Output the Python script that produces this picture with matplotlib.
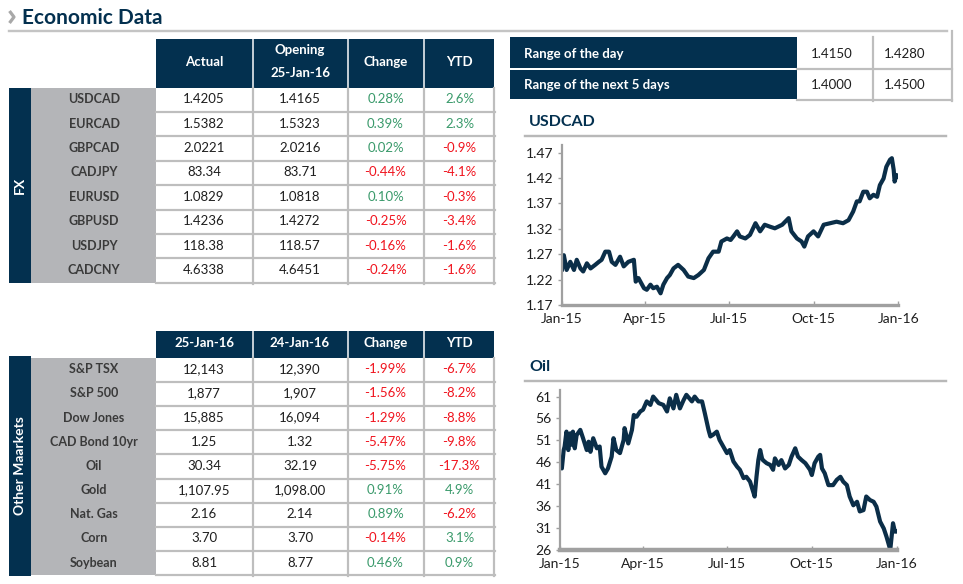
import numpy as np
import matplotlib
matplotlib.use("Agg")
import matplotlib.pyplot as plt
from matplotlib.patches import Rectangle

plt.rcParams['font.family'] = ['Lato', 'DejaVu Sans']

NAVY = '#03304F'
LINE_NAVY = '#0B2E48'
GREY_LBL = '#B4B5B8'
GRID = '#BEBEBE'
GREEN = '#3A9A6B'
RED = '#F0141E'
TXT = '#1E1E1E'
LBL = '#3A3A3A'

# ---------------- data ----------------
fx_names = ['USDCAD', 'EURCAD', 'GBPCAD', 'CADJPY', 'EURUSD', 'GBPUSD', 'USDJPY', 'CADCNY']
fx_actual = ['1.4205', '1.5382', '2.0221', '83.34', '1.0829', '1.4236', '118.38', '4.6338']
fx_open = ['1.4165', '1.5323', '2.0216', '83.71', '1.0818', '1.4272', '118.57', '4.6451']
fx_change = [0.28, 0.39, 0.02, -0.44, 0.10, -0.25, -0.16, -0.24]
fx_ytd = [2.6, 2.3, -0.9, -4.1, -0.3, -3.4, -1.6, -1.6]
fx_headers = ['Actual', 'Opening\n25-Jan-16', 'Change', 'YTD']

om_names = ['S&P TSX', 'S&P 500', 'Dow Jones', 'CAD Bond 10yr', 'Oil', 'Gold', 'Nat. Gas', 'Corn', 'Soybean']
om_cur = ['12,143', '1,877', '15,885', '1.25', '30.34', '1,107.95', '2.16', '3.70', '8.81']
om_prev = ['12,390', '1,907', '16,094', '1.32', '32.19', '1,098.00', '2.14', '3.70', '8.77']
om_change = [-1.99, -1.56, -1.29, -5.47, -5.75, 0.91, 0.89, -0.14, 0.46]
om_ytd = [-6.7, -8.2, -8.8, -9.8, -17.3, 4.9, -6.2, 3.1, 0.9]
om_headers = ['25-Jan-16', '24-Jan-16', 'Change', 'YTD']

range_labels = ['Range of the day', 'Range of the next 5 days']
range_low = ['1.4150', '1.4000']
range_high = ['1.4280', '1.4500']

# days since 2015-01-01
usdcad_day = [0, 2, 5, 9, 13, 16, 20, 23, 27, 31, 36, 40, 43, 47, 51, 54, 58, 63, 67, 72,
              78, 80, 83, 89, 92, 96, 99, 103, 107, 110, 114, 117, 121, 126, 132, 137, 143,
              148, 154, 159, 164, 170, 173, 179, 183, 186, 190, 193, 199, 204, 210, 215, 220,
              226, 231, 239, 246, 249, 255, 260, 263, 267, 273, 278, 284, 291, 298, 305, 311,
              316, 320, 323, 327, 331, 334, 338, 342, 345, 349, 352, 356, 358, 360, 361, 363, 365]
usdcad_val = [1.240, 1.268, 1.239, 1.255, 1.239, 1.259, 1.242, 1.236, 1.252, 1.242, 1.249,
              1.255, 1.259, 1.275, 1.275, 1.255, 1.249, 1.265, 1.246, 1.255, 1.259, 1.216,
              1.223, 1.203, 1.200, 1.210, 1.203, 1.206, 1.193, 1.210, 1.223, 1.229, 1.242,
              1.249, 1.239, 1.226, 1.223, 1.229, 1.239, 1.262, 1.275, 1.275, 1.295, 1.301,
              1.298, 1.305, 1.315, 1.305, 1.301, 1.308, 1.331, 1.315, 1.328, 1.324, 1.321,
              1.328, 1.341, 1.315, 1.301, 1.295, 1.285, 1.305, 1.315, 1.305, 1.328, 1.331,
              1.334, 1.331, 1.337, 1.354, 1.374, 1.374, 1.393, 1.393, 1.380, 1.387, 1.383,
              1.406, 1.419, 1.442, 1.456, 1.459, 1.436, 1.413, 1.426, 1.423]

oil_day = [0, 2, 4, 5, 7, 9, 11, 13, 14, 16, 18, 22, 25, 29, 31, 33, 36, 40, 43, 45, 49, 52,
           56, 58, 61, 65, 69, 70, 74, 78, 80, 83, 87, 90, 94, 98, 101, 107, 112, 116, 119,
           123, 126, 130, 134, 137, 143, 146, 150, 154, 157, 161, 163, 166, 170, 173, 177,
           181, 184, 188, 192, 195, 199, 202, 206, 210, 211, 213, 215, 217, 219, 220, 224,
           228, 231, 233, 237, 240, 244, 248, 251, 255, 258, 262, 266, 271, 273, 276, 280,
           282, 284, 287, 291, 296, 300, 304, 307, 311, 314, 318, 322, 325, 329, 332, 336,
           340, 343, 347, 351, 354, 357, 358, 361, 363, 365]
oil_val = [45.8, 44.6, 48.8, 49.6, 53.0, 48.8, 52.6, 50.0, 53.0, 49.2, 52.2, 53.4, 51.5, 48.8,
           50.7, 48.4, 51.5, 49.2, 49.6, 45.0, 43.5, 44.6, 47.3, 51.5, 48.8, 48.1, 51.1, 53.8,
           50.3, 53.4, 56.8, 56.4, 57.6, 58.0, 59.9, 59.1, 61.0, 59.5, 59.1, 57.6, 60.6, 58.3,
           61.4, 58.3, 60.2, 61.4, 59.9, 61.0, 59.9, 59.9, 57.2, 53.4, 51.9, 52.3, 53.0, 51.1,
           49.6, 48.1, 48.8, 46.2, 45.0, 44.3, 42.4, 42.7, 41.6, 38.9, 38.2, 42.7, 46.5, 48.8,
           46.9, 46.5, 45.8, 45.4, 44.3, 46.9, 45.4, 46.5, 44.6, 45.4, 47.3, 49.2, 47.3, 46.5,
           45.8, 44.3, 43.1, 45.8, 47.3, 47.7, 44.6, 43.5, 40.8, 40.8, 42.0, 42.7, 41.6, 40.8,
           38.2, 36.2, 37.0, 34.8, 35.1, 38.2, 37.4, 37.0, 35.9, 32.5, 30.9, 29.0, 26.8, 26.0,
           32.1, 30.2, 30.2]

usdcad_ticks = [1.17, 1.22, 1.27, 1.32, 1.37, 1.42, 1.47]
oil_ticks = [26, 31, 36, 41, 46, 51, 56, 61]
date_ticks = ['2015-01-01', '2015-04-01', '2015-07-01', '2015-10-01', '2016-01-01']
date_tick_labels = ['Jan-15', 'Apr-15', 'Jul-15', 'Oct-15', 'Jan-16']

# ---------------- figure ----------------
W, H = 963, 584
fig = plt.figure(figsize=(W / 100, H / 100), dpi=100)
ax = fig.add_axes([0, 0, 1, 1])
ax.set_xlim(0, W)
ax.set_ylim(H, 0)
ax.axis('off')

PX = 0.72  # points per pixel

# title
ax.plot([9.5, 14, 9.5], [11, 17, 23], color='#A8A8A8', lw=3.2 * PX, solid_capstyle='butt')
ax.text(22.5, 17.5, 'Economic Data', fontsize=15, fontweight='bold', color=NAVY,
        ha='left', va='center')
ax.plot([9, 947], [30.5, 30.5], color='#C4C4C4', lw=2.4 * PX)

col_edges = [156, 252.5, 347.5, 424, 494]
col_centers = [204, 300, 385.5, 459.5]


def fmt_pct(v, nd):
    return f'{v:.{nd}f}%'


def draw_table(h_top, h_bot, row_top, row_h, names, c1, c2, chg, ytd, headers, side, side_top, side_bot):
    n = len(names)
    row_bot = row_top + n * row_h
    # header
    ax.add_patch(Rectangle((col_edges[0], h_top), col_edges[-1] - col_edges[0], h_bot - h_top,
                           facecolor=NAVY, edgecolor='none'))
    for xe in col_edges[1:-1]:
        ax.plot([xe, xe], [h_top, h_bot], color='white', lw=1.5 * PX)
    hc = (h_top + h_bot) / 2 - 1.5
    for i, hd in enumerate(headers):
        if '\n' in hd:
            a, b = hd.split('\n')
            ax.text(col_centers[i], h_top + 11, a, color='white', fontsize=9.5, fontweight='bold',
                    ha='center', va='center')
            ax.text(col_centers[i], h_top + 34, b, color='white', fontsize=9.5, fontweight='bold',
                    ha='center', va='center')
        else:
            ax.text(col_centers[i], hc, hd, color='white', fontsize=9.5, fontweight='bold',
                    ha='center', va='center')
    # side bar + label column
    ax.add_patch(Rectangle((9, side_top), 22, side_bot - side_top, facecolor=NAVY, edgecolor='none'))
    ax.add_patch(Rectangle((31, row_top), 125, row_bot - row_top, facecolor=GREY_LBL, edgecolor='none'))
    ax.text(20, (side_top + side_bot) / 2, side, rotation=90, color='white', fontsize=10,
            fontweight='bold', ha='center', va='center')
    # grid lines
    for i in range(1, n + 1):
        y = row_top + i * row_h
        ax.plot([col_edges[0], col_edges[-1] + 1], [y, y], color=GRID, lw=2.2 * PX)
    for xe in col_edges[1:]:
        ax.plot([xe, xe], [h_bot, row_bot + 1], color=GRID, lw=2.2 * PX)
    # cells
    for i in range(n):
        yc = row_top + (i + 0.5) * row_h - 0.5
        ax.text(94, yc, names[i], color=LBL, fontsize=9, fontweight='bold', ha='center', va='center')
        ax.text(col_centers[0], yc, c1[i], color=TXT, fontsize=9.5, ha='center', va='center')
        ax.text(col_centers[1], yc, c2[i], color=TXT, fontsize=9.5, ha='center', va='center')
        ax.text(col_centers[2], yc, fmt_pct(chg[i], 2), color=GREEN if chg[i] >= 0 else RED,
                fontsize=9.5, ha='center', va='center')
        ax.text(col_centers[3], yc, fmt_pct(ytd[i], 1), color=GREEN if ytd[i] >= 0 else RED,
                fontsize=9.5, ha='center', va='center')


draw_table(39, 87.5, 87.5, 24.4, fx_names, fx_actual, fx_open, fx_change, fx_ytd, fx_headers,
           'FX', 87.5, 282.5)
draw_table(331, 357.5, 357.5, 24.2, om_names, om_cur, om_prev, om_change, om_ytd, om_headers,
           'Other Maarkets', 356, 576)

# range table
r_rows = [(37, 68), (69.5, 99)]
for (t, b), lab, lo, hi in zip(r_rows, range_labels, range_low, range_high):
    ax.add_patch(Rectangle((510, t), 287, b - t, facecolor=NAVY, edgecolor='none'))
    yc = (t + b) / 2 + 1
    ax.text(524, yc, lab, color='white', fontsize=9.5, fontweight='bold', ha='left', va='center')
    ax.text(832, yc, lo, color=TXT, fontsize=9.5, ha='center', va='center')
    ax.text(905, yc, hi, color=TXT, fontsize=9.5, ha='center', va='center')
ax.plot([797, 952], [68.7, 68.7], color=GRID, lw=2.2 * PX)
ax.plot([797, 952], [100, 100], color=GRID, lw=2.2 * PX)
ax.plot([873, 873], [37, 101], color=GRID, lw=2.2 * PX)
ax.plot([951.5, 951.5], [31, 101], color=GRID, lw=2.2 * PX)

# chart titles
ax.text(529, 122, 'USDCAD', color=NAVY, fontsize=11.5, fontweight='bold', ha='left', va='center')
ax.plot([525, 946], [136, 136], color='#B8B8B8', lw=2.4 * PX)
ax.text(529, 367, 'Oil', color=NAVY, fontsize=11.5, fontweight='bold', ha='left', va='center')
ax.plot([525, 946], [381, 381], color='#B8B8B8', lw=2.4 * PX)

base = np.datetime64('2015-01-01')
tick_dates = [np.datetime64(d) for d in date_ticks]


def make_chart(left, right, top, bottom, days, vals, ylim, yticks, bottom_lw):
    cax = fig.add_axes([left / W, 1 - bottom / H, (right - left) / W, (bottom - top) / H])
    dates = base + np.array(days).astype('timedelta64[D]')
    cax.plot(dates, vals, color=LINE_NAVY, lw=3.0, solid_joinstyle='round')
    cax.set_xlim(tick_dates[0], tick_dates[-1])
    cax.set_ylim(*ylim)
    cax.set_yticks(yticks)
    cax.set_yticklabels([str(t) for t in yticks])
    cax.set_xticks(tick_dates)
    cax.set_xticklabels(date_tick_labels)
    for s in ['top', 'right']:
        cax.spines[s].set_visible(False)
    cax.spines['left'].set_color('#A0A0A0')
    cax.spines['left'].set_linewidth(1.6)
    cax.spines['bottom'].set_color('#A0A0A0')
    cax.spines['bottom'].set_linewidth(bottom_lw)
    cax.tick_params(axis='y', length=3, width=1, color='#A0A0A0', pad=3, labelsize=10, labelcolor=TXT)
    cax.tick_params(axis='x', length=3, width=1, color='#A0A0A0', direction='in', pad=6,
                    labelsize=10, labelcolor=TXT)
    cax.set_facecolor('none')
    return cax


make_chart(562, 898.3, 145, 305, usdcad_day, usdcad_val, (1.17, 1.485), usdcad_ticks, 2.4)
make_chart(560, 896.7, 390, 550, oil_day, oil_val, (26, 62.5), oil_ticks, 3.2)

fig.savefig('out.png', dpi=100)
